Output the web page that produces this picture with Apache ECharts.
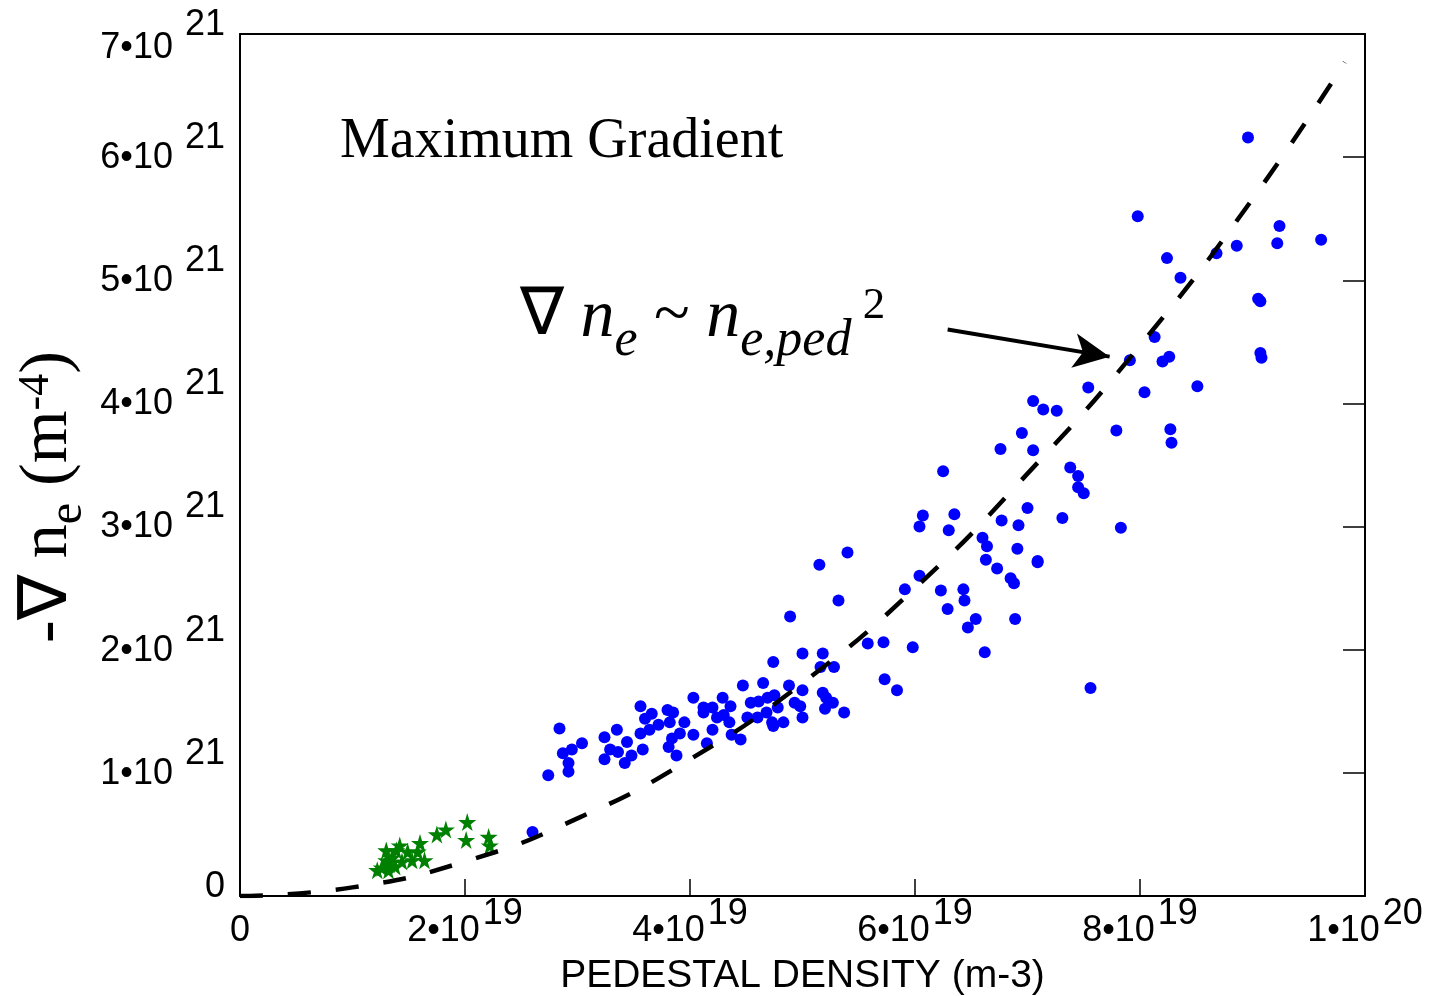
<!DOCTYPE html>
<html>
<head>
<meta charset="utf-8">
<script src="https://cdn.jsdelivr.net/npm/echarts@6/dist/echarts.min.js"></script>
<style>
html,body{margin:0;padding:0;background:#fff;}
#chart{width:1432px;height:996px;}
</style>
</head>
<body>
<div id="chart"></div>
<script>
// pedestal density in units of 1e19 m-3, gradient in units of 1e21 m-4
var blueX = [2.60,2.74,2.84,2.87,2.95,2.92,2.92,3.04,3.24,3.35,3.29,3.24,3.36,3.44,3.48,3.42,
	3.56,3.66,3.60,3.56,3.64,3.72,3.58,3.80,3.85,3.82,3.95,3.91,3.84,3.81,3.88,4.03,4.03,4.12,4.12,
	4.20,4.29,4.36,4.24,4.30,4.35,4.20,4.37,4.45,4.15,4.47,4.65,4.54,4.61,4.69,4.75,4.51,4.60,4.68,
	4.73,4.78,4.74,4.83,4.88,5.00,4.93,4.98,5.00,5.18,5.21,5.27,5.20,5.37,4.74,5.00,5.18,5.16,5.28,
	4.89,5.32,5.40,5.15,5.58,5.72,5.73,5.84,5.98,5.91,6.04,6.23,6.43,6.44,6.29,6.04,6.07,6.30,6.35,
	6.25,6.60,6.64,6.91,6.63,6.73,6.85,6.88,7.09,7.09,6.54,6.47,6.89,6.62,6.76,6.77,6.92,6.95,7.05,
	7.00,7.05,7.14,7.26,7.31,7.38,7.45,7.45,7.50,7.54,7.56,7.79,7.83,7.91,8.04,8.13,8.20,8.26,8.27,
	8.28,8.51,7.98,8.24,8.36,8.68,8.86,8.96,9.07,9.05,9.07,9.08,9.24,9.22,9.61];
var blueY = [0.52,0.98,1.36,1.16,1.19,1.08,1.01,1.24,1.29,1.35,1.19,1.11,1.17,1.25,1.14,1.08,
	1.54,1.48,1.44,1.32,1.35,1.39,1.19,1.51,1.49,1.41,1.41,1.32,1.28,1.21,1.14,1.61,1.31,1.53,1.49,
	1.53,1.61,1.54,1.45,1.47,1.41,1.35,1.31,1.27,1.24,1.71,1.73,1.57,1.58,1.61,1.63,1.45,1.45,1.49,
	1.41,1.53,1.38,1.41,1.71,1.67,1.57,1.54,1.45,1.65,1.61,1.57,1.52,1.49,1.90,1.97,1.97,1.86,1.86,
	2.27,2.40,2.79,2.69,2.05,2.06,1.76,1.67,2.02,2.49,2.60,2.48,2.49,2.40,2.33,3.00,3.09,2.97,3.10,
	3.45,2.91,2.84,2.82,2.73,2.66,2.58,2.54,2.72,2.71,2.25,2.18,2.25,1.98,3.63,3.05,3.01,3.76,3.62,
	3.15,4.02,3.95,3.94,3.07,3.48,3.41,3.32,3.27,4.13,1.69,3.78,2.99,4.35,4.09,4.54,4.34,4.38,3.79,
	3.68,4.14,5.52,5.18,5.02,5.22,5.28,6.16,4.83,4.85,4.41,4.37,5.44,5.30,5.33];
var starX = [2.02,2.01,2.21,2.22,1.83,1.75,1.60,1.58,1.64,1.49,1.42,1.39,1.35,1.30,1.26,1.22,1.38,1.32,1.44,1.53,1.30,1.33];
var starY = [0.60,0.455,0.48,0.41,0.54,0.50,0.43,0.36,0.29,0.36,0.41,0.37,0.31,0.29,0.23,0.21,0.24,0.21,0.28,0.29,0.37,0.26];
// dashed fit curve
var fitX = [0,1,2,3,4,5,6,7,8,9,9.82];
var fitY = [0,0.07,0.28,0.63,1.11,1.73,2.50,3.43,4.47,5.66,6.77];
var xTickLabels = [['0',''],['2•10','19'],['4•10','19'],['6•10','19'],['8•10','19'],['1•10','20']];
var yTickLabels = [['0',''],['1•10','21'],['2•10','21'],['3•10','21'],['4•10','21'],['5•10','21'],['6•10','21'],['7•10','21']];
var arrowFrom = [6.29,4.60];
var arrowTo = [7.73,4.38];

var SANS = '"Liberation Sans", Arial, Helvetica, sans-serif';
var SERIF = '"Liberation Serif", "Times New Roman", serif';

function zip(a,b){
	var out = [];
	for(var i = 0;i < a.length;i++){
		out.push([a[i],b[i]]);
	}
	return out;
}

var starPath = 'path://M50,0 L61,35 L98,35 L68,57 L79,91 L50,70 L21,91 L32,57 L2,35 L39,35 Z';

var chart = echarts.init(document.getElementById('chart'));
var option = {
	animation: false,
	backgroundColor: '#fff',
	grid: {left: 240, right: 67, top: 34, bottom: 100, containLabel: false, outerBoundsMode: 'none'},
	xAxis: [{
		type: 'value', min: 0, max: 10, interval: 2, position: 'bottom',
		name: 'PEDESTAL DENSITY (m-3)', nameLocation: 'middle', nameGap: 61,
		nameTextStyle: {color: '#000', fontSize: 39, fontFamily: SANS},
		axisLine: {show: true, onZero: false, lineStyle: {color: '#000', width: 2}},
		axisTick: {show: true, inside: true, length: 17, lineStyle: {color: '#000', width: 1.5}},
		splitLine: {show: false},
		axisLabel: {
			margin: 0, color: '#000', showMinLabel: true, showMaxLabel: true,
			formatter: function(v){
				var t = xTickLabels[Math.round(v/2)];
				if(!t[1]) return '{m|' + t[0] + '}';
				return '{m|' + t[0] + '}{s|' + t[1] + '}';
			},
			rich: {
				m: {fontSize: 36, lineHeight: 53, verticalAlign: 'bottom', fontFamily: SANS, color: '#000'},
				s: {fontSize: 36, lineHeight: 53, verticalAlign: 'top', padding: [0,0,0,3], fontFamily: SANS, color: '#000'}
			}
		}
	}, {
		type: 'value', min: 0, max: 10, position: 'top',
		axisLine: {show: true, onZero: false, lineStyle: {color: '#000', width: 2}},
		axisTick: {show: false}, axisLabel: {show: false}, splitLine: {show: false}
	}],
	yAxis: [{
		type: 'value', min: 0, max: 7, interval: 1, position: 'left',
		axisLine: {show: true, onZero: false, lineStyle: {color: '#000', width: 2}},
		axisTick: {show: false},
		splitLine: {show: false},
		axisLabel: {
			margin: 15, color: '#000', padding: [0,0,18,0], showMinLabel: true, showMaxLabel: true,
			formatter: function(v){
				var i = Math.round(v);
				var t = yTickLabels[i];
				if(!t[1]) return '{z|' + t[0] + '}';
				if(i == yTickLabels.length - 1) return '{mt|' + t[0] + '}{st|' + t[1] + '}';//top label sits lower
				return '{m|' + t[0] + '}{s|' + t[1] + '}';
			},
			rich: {
				m: {fontSize: 36, lineHeight: 56, verticalAlign: 'bottom', fontFamily: SANS, color: '#000'},
				s: {fontSize: 36, lineHeight: 56, verticalAlign: 'top', padding: [0,0,0,12], fontFamily: SANS, color: '#000'},
				mt: {fontSize: 36, lineHeight: 82, verticalAlign: 'bottom', fontFamily: SANS, color: '#000'},
				st: {fontSize: 36, lineHeight: 82, verticalAlign: 'top', padding: [23,0,0,12], fontFamily: SANS, color: '#000'},
				z: {fontSize: 36, lineHeight: 36, fontFamily: SANS, color: '#000'}
			}
		}
	}, {
		type: 'value', min: 0, max: 7, interval: 1, position: 'right',
		axisLine: {show: true, onZero: false, lineStyle: {color: '#000', width: 2}},
		axisTick: {show: true, inside: true, length: 22, lineStyle: {color: '#000', width: 1.5}},
		axisLabel: {show: false}, splitLine: {show: false}
	}],
	graphic: [{
		type: 'text', x: 340, y: 142,
		style: {text: 'Maximum Gradient', fill: '#000', font: 'normal 56px ' + SERIF, verticalAlign: 'middle'}
	}, {
		type: 'text', x: 520, y: 318,
		style: {
			text: '{d|∇ }{n|n}{sb|e}{d| ~ }{n|n}{sb|e,ped}{sp| 2}',
			verticalAlign: 'middle',
			rich: {
				d: {fontSize: 66, lineHeight: 68, verticalAlign: 'top', fontFamily: SERIF, fill: '#000'},
				n: {fontSize: 68, lineHeight: 68, verticalAlign: 'top', fontStyle: 'italic', fontFamily: SERIF, fill: '#000'},
				sb: {fontSize: 52, lineHeight: 52, verticalAlign: 'top', padding: [31,0,0,0], fontStyle: 'italic', fontFamily: SERIF, fill: '#000'},
				sp: {fontSize: 45, lineHeight: 45, verticalAlign: 'top', fontFamily: SERIF, fill: '#000'}
			}
		}
	}, {
		type: 'text', x: 48, y: 497, rotation: Math.PI / 2,
		style: {
			text: '{a|-∇ n}{sb|e}{a| (m}{sp|-4}{a|)}',
			align: 'center', verticalAlign: 'middle',
			rich: {
				a: {fontSize: 68, lineHeight: 68, verticalAlign: 'top', fontFamily: SERIF, fill: '#000'},
				sb: {fontSize: 48, lineHeight: 48, verticalAlign: 'top', padding: [30,0,0,0], fontFamily: SERIF, fill: '#000'},
				sp: {fontSize: 44, lineHeight: 44, verticalAlign: 'top', fontFamily: SERIF, fill: '#000'}
			}
		}
	}],
	series: [{
		name: 'stars', type: 'scatter', xAxisIndex: 0, yAxisIndex: 0,
		symbol: starPath, symbolSize: 18,
		itemStyle: {color: '#008000', opacity: 1},
		data: zip(starX, starY)
	}, {
		name: 'points', type: 'scatter', xAxisIndex: 0, yAxisIndex: 0,
		symbol: 'circle', symbolSize: 12,
		itemStyle: {color: '#0000ff', opacity: 1},
		data: zip(blueX, blueY),
		markLine: {
			silent: true, symbol: ['none', 'arrow'], symbolSize: [26, 36],
			label: {show: false},
			lineStyle: {color: '#000', width: 4, type: 'solid', opacity: 1},
			data: [[{coord: arrowFrom}, {coord: arrowTo}]]
		}
	}, {
		name: 'fit', type: 'line', xAxisIndex: 0, yAxisIndex: 0,
		smooth: true, showSymbol: false, symbol: 'none',
		lineStyle: {color: '#000', width: 4.5, type: [23, 25]},
		data: zip(fitX, fitY),
		z: 5
	}]
};
chart.setOption(option);
window.onresize = chart.resize;
</script>
</body>
</html>
